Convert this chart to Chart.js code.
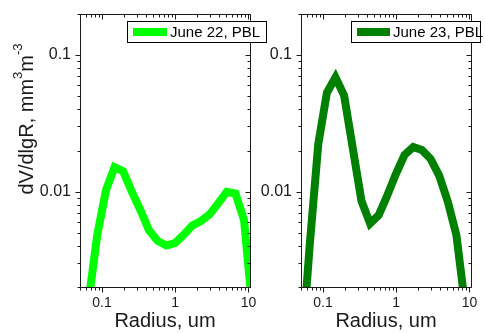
<!DOCTYPE html>
<html>
<head>
<meta charset="utf-8">
<title>Volume size distribution, PBL</title>
<script src="https://cdn.jsdelivr.net/npm/chart.js@4.4.1/dist/chart.umd.min.js"></script>
<style>
    html, body { margin: 0; padding: 0; background: #ffffff; }
    #wrap { position: relative; width: 485px; height: 333px; overflow: hidden; }
    #wrap canvas { position: absolute; top: 0; }
    #left { left: 0; }
    #right { left: 240px; }
</style>
</head>
<body>
<div id="wrap">
    <canvas id="left" width="275" height="333"></canvas>
    <canvas id="right" width="245" height="333"></canvas>
</div>
<script>
const radius = [0.05, 0.0656, 0.0861, 0.113, 0.148, 0.194, 0.255, 0.335, 0.439, 0.576, 0.756,
                0.992, 1.30, 1.71, 2.24, 2.94, 3.86, 5.06, 6.64, 8.71, 11.4];

// dV/dlgR, mm^3 m^-3
const june22 = [0.0005, 0.00159, 0.00481, 0.0102, 0.0151, 0.0141, 0.0100, 0.0073, 0.0052, 0.00435, 0.00403,
                0.00419, 0.00481, 0.00564, 0.00608, 0.00681, 0.00819, 0.00995, 0.00967, 0.00618, 0.00132];
const june23 = [0.00056, 0.00398, 0.0223, 0.0531, 0.0686, 0.0507, 0.0207, 0.00853, 0.00585, 0.00673, 0.0094,
                0.0135, 0.0186, 0.0212, 0.0202, 0.0174, 0.0131, 0.00846, 0.00479, 0.00146, 0.0004];

const seriesLabels = ['June 22, PBL', 'June 23, PBL'];
const xTickLabels = [0.1, 1, 10];
const yTickLabels = [0.01, 0.1];
const xRange = [0.05, 10.5];
const yRange = [0.002, 0.2];

const ink = '#1a1a1a';
const fontFamily = 'Arial, "Liberation Sans", Helvetica, sans-serif';

// 1..9 x 10^n values inside a range, used for the minor tick marks
function decadeSteps(lo, hi) {
    const out = [];
    for (let e = -4; e <= 2; e++) {
        for (let m = 1; m < 10; m++) {
            const v = m * Math.pow(10, e);
            if (v >= lo * 0.999 && v <= hi * 1.001) out.push(v);
        }
    }
    return out;
}

const isMajor = (v, list) => list.some(t => Math.abs(t - v) / t < 1e-6);

// Box round the plot plus Origin-style ticks (out on bottom/left, in on top/right)
const frameTicks = {
    id: 'frameTicks',
    afterDatasetsDraw(chart) {
        const { ctx, chartArea: a, scales: { x, y } } = chart;
        const L = a.left + 0.5, R = a.right + 0.5, T = a.top + 0.5, B = a.bottom + 0.5;
        ctx.save();
        ctx.strokeStyle = ink;
        ctx.lineWidth = 1;
        ctx.beginPath();
        ctx.rect(L, T, R - L, B - T);
        decadeSteps(x.min, x.max).forEach(v => {
            const px = Math.round(x.getPixelForValue(v)) + 0.5;
            const len = isMajor(v, xTickLabels) ? 5 : 3;
            ctx.moveTo(px, B); ctx.lineTo(px, B + len);
            ctx.moveTo(px, T); ctx.lineTo(px, T + len);
        });
        decadeSteps(y.min, y.max).forEach(v => {
            const py = Math.round(y.getPixelForValue(v)) + 0.5;
            const len = isMajor(v, yTickLabels) ? 5 : 3;
            ctx.moveTo(L, py); ctx.lineTo(L - len, py);
            ctx.moveTo(R, py); ctx.lineTo(R - len, py);
        });
        ctx.stroke();
        ctx.restore();
    }
};

// Framed legend with a thick line sample
const boxLegend = {
    id: 'boxLegend',
    afterDraw(chart, args, opts) {
        if (!opts.box) return;
        const ctx = chart.ctx;
        const ds = chart.data.datasets[0];
        const [bx, by, bw, bh] = opts.box;
        const mid = by + bh / 2 + 0.5;
        ctx.save();
        ctx.fillStyle = '#ffffff';
        ctx.fillRect(bx, by, bw, bh);
        ctx.strokeStyle = '#000000';
        ctx.lineWidth = 1;
        ctx.strokeRect(bx + 0.5, by + 0.5, bw, bh);
        ctx.strokeStyle = ds.borderColor;
        ctx.lineWidth = 8;
        ctx.beginPath();
        ctx.moveTo(bx + 6, mid);
        ctx.lineTo(bx + opts.sample, mid);
        ctx.stroke();
        ctx.fillStyle = '#000000';
        ctx.font = '15px ' + fontFamily;
        ctx.textBaseline = 'middle';
        ctx.fillText(ds.label, bx + opts.sample + 3, mid + 1);
        ctx.restore();
    }
};

// Rotated y title with superscripts
const yTitle = {
    id: 'yTitle',
    afterDraw(chart, args, opts) {
        if (!opts.parts) return;
        const ctx = chart.ctx;
        const fontFor = p => (p.sup ? 13 : 20) + 'px ' + fontFamily;
        ctx.save();
        ctx.fillStyle = ink;
        ctx.textBaseline = 'alphabetic';
        let total = 0;
        opts.parts.forEach(p => { ctx.font = fontFor(p); total += ctx.measureText(p.t).width; });
        ctx.translate(opts.x, opts.cy + total / 2);
        ctx.rotate(-Math.PI / 2);
        let cx = 0;
        opts.parts.forEach(p => {
            ctx.font = fontFor(p);
            ctx.fillText(p.t, cx, p.sup ? -11 : 0);
            cx += ctx.measureText(p.t).width;
        });
        ctx.restore();
    }
};

function buildPanel(canvasId, label, values, color, layout) {
    const points = radius.map((r, i) => ({ x: r, y: values[i] }));

    return new Chart(document.getElementById(canvasId), {
        type: 'line',
        data: {
            datasets: [{
                label: label,
                data: points,
                borderColor: color,
                backgroundColor: color,
                borderWidth: 8,
                pointRadius: 0,
                tension: 0,
                fill: false,
                clip: 0
            }]
        },
        options: {
            responsive: false,
            animation: false,
            devicePixelRatio: 1,
            layout: { padding: { top: 14, right: layout.padRight, left: 0, bottom: 0 } },
            plugins: {
                legend: { display: false },
                tooltip: { enabled: false },
                boxLegend: layout.legend,
                yTitle: layout.title || {}
            },
            scales: {
                x: {
                    type: 'logarithmic',
                    position: 'bottom',
                    min: xRange[0],
                    max: xRange[1],
                    grid: { display: false, drawTicks: false },
                    border: { display: false },
                    ticks: {
                        color: ink,
                        padding: 8,
                        autoSkip: false,
                        maxRotation: 0,
                        font: { family: fontFamily, size: 14 },
                        callback: v => String(v)
                    },
                    title: {
                        display: true,
                        text: 'Radius, um',
                        color: ink,
                        padding: 0,
                        font: { family: fontFamily, size: 20 }
                    },
                    afterBuildTicks: s => { s.ticks = xTickLabels.map(v => ({ value: v })); },
                    afterFit: s => {
                        s.height = 46;
                        s.paddingLeft = s.paddingRight = s.paddingTop = s.paddingBottom = 0;
                    }
                },
                y: {
                    type: 'logarithmic',
                    position: 'left',
                    min: yRange[0],
                    max: yRange[1],
                    grid: { display: false, drawTicks: false },
                    border: { display: false },
                    ticks: {
                        color: ink,
                        padding: 9,
                        autoSkip: false,
                        font: { family: fontFamily, size: 16 },
                        callback: v => String(v)
                    },
                    afterBuildTicks: s => { s.ticks = yTickLabels.map(v => ({ value: v })); },
                    afterFit: s => {
                        s.width = layout.yWidth;
                        s.paddingLeft = s.paddingRight = s.paddingTop = s.paddingBottom = 0;
                    }
                }
            }
        },
        plugins: [frameTicks, boxLegend, yTitle]
    });
}

const charts = {};
charts.left = buildPanel('left', seriesLabels[0], june22, '#00ff00', {
    yWidth: 80,
    padRight: 25,
    legend: { box: [127, 21, 139, 21], sample: 40 },
    title: {
        x: 33,
        cy: 119,
        parts: [{ t: 'dV/dlgR, mm' }, { t: '3', sup: true }, { t: 'm' }, { t: '-3', sup: true }]
    }
});
charts.right = buildPanel('right', seriesLabels[1], june23, '#008000', {
    yWidth: 61,
    padRight: 14,
    legend: { box: [111, 21, 129, 21], sample: 39 }
});
</script>
</body>
</html>
